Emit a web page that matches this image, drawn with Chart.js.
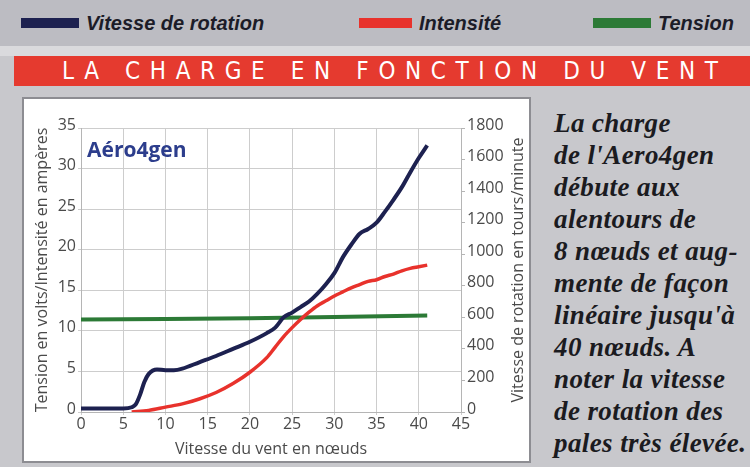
<!DOCTYPE html>
<html><head><meta charset="utf-8">
<script src="https://cdn.jsdelivr.net/npm/chart.js@4/dist/chart.umd.min.js"></script>
<style>
html,body{margin:0;padding:0;}
body{width:750px;height:467px;position:relative;overflow:hidden;background:#c8c8cc;font-family:"Open Sans",sans-serif;}
#topband{position:absolute;left:0;top:0;width:750px;height:46px;background:#bcbcc2;}
#gap{position:absolute;left:0;top:46px;width:750px;height:10px;background:#dadadd;}
#legend{position:absolute;left:0;top:0;width:750px;height:46px;}
.li{position:absolute;top:12px;height:22px;display:flex;align-items:center;font-family:"Liberation Sans",sans-serif;font-weight:bold;font-style:italic;font-size:20px;color:#1c1c28;white-space:nowrap;}
.sw{display:inline-block;height:10px;margin-right:7px;}
#titleband{position:absolute;left:14px;top:56px;width:736px;height:30px;background:#e53a2f;color:#fff;font-family:"Liberation Sans Narrow","DejaVu Sans Condensed",sans-serif;font-size:24px;line-height:30px;white-space:nowrap;}
#titleband span{position:absolute;left:48px;top:0;}
#panel{position:absolute;left:22px;top:97px;width:505px;height:362px;background:#fff;border:2px solid #8d8d92;}
#chartbox{position:absolute;left:0;top:0;width:505px;height:362px;}
#brand{position:absolute;left:63px;top:36px;font-family:"Open Sans",sans-serif;font-weight:bold;font-size:21px;color:#2c3d8c;}
#caption{position:absolute;left:554px;top:107px;width:196px;font-family:"Liberation Serif",serif;font-weight:bold;font-style:italic;font-size:27px;letter-spacing:0.4px;line-height:32px;color:#1b1b1f;white-space:nowrap;}
</style></head>
<body>
<div id="topband"></div><div id="gap"></div>
<div id="legend"></div>
<div id="titleband"><span id="ttext">LA CHARGE EN FONCTION DU VENT</span></div>
<div id="panel"><div id="chartbox"><canvas id="c" width="505" height="362"></canvas></div><div id="brand">Aéro4gen</div></div>
<div id="caption">La charge<br>de l'Aero4gen<br>débute aux<br>alentours de<br>8 nœuds et aug-<br>mente de façon<br>linéaire jusqu'à<br>40 nœuds. A<br>noter la vitesse<br>de rotation des<br>pales très élevée.</div>
<script>
// Series names
const seriesNames = ['Vitesse de rotation', 'Intensité', 'Tension'];
// Vitesse de rotation (tours/minute) vs wind speed (nœuds)
const rpmKnots  = [0, 5, 6, 6.5, 7, 7.5, 8, 9, 10, 11, 12, 14, 16, 18, 20, 22, 23, 24, 25, 26, 27, 28, 29, 30, 31, 32, 33, 34, 35, 36, 37, 38, 39, 40, 41];
const rpmValues = [22, 22, 30, 50, 110, 190, 240, 270, 265, 265, 275, 315, 355, 400, 445, 500, 535, 600, 630, 665, 700, 750, 810, 880, 980, 1060, 1130, 1160, 1200, 1270, 1345, 1425, 1520, 1610, 1690];
// Intensité (ampères)
const ampKnots  = [6, 8, 10, 12, 14, 16, 18, 20, 22, 23, 24, 25, 26, 27, 28, 29, 30, 31, 32, 33, 34, 35, 36, 37, 38, 39, 40, 41];
const ampValues = [0, 0.2, 0.6, 1.0, 1.6, 2.4, 3.5, 4.9, 6.7, 8.0, 9.3, 10.4, 11.4, 12.3, 13.1, 13.7, 14.3, 14.8, 15.3, 15.7, 16.1, 16.3, 16.7, 17.0, 17.4, 17.7, 17.9, 18.1];
// Tension (volts)
const voltKnots  = [0, 10, 20, 30, 41];
const voltValues = [11.4, 11.45, 11.55, 11.7, 11.9];
// Axis ranges / ticks
const xTicks = [0, 45, 5];
const leftTicks = [0, 35, 5];
const rightTicks = [0, 1800, 200];
const seriesColors = ['#1d2150', '#e8322c', '#2c7a36'];

// Fit the letter-spaced title band text to its width
(function () {
  const t = document.getElementById('ttext');
  const target = 656, n = t.textContent.length;
  const w0 = t.getBoundingClientRect().width;
  t.style.letterSpacing = ((target - w0) / (n - 1)) + 'px';
})();

const pts = (xs, ys) => xs.map((x, i) => ({x, y: ys[i]}));
const tickFont = {family: '"Open Sans", sans-serif', size: 16};
const titleFont = {family: '"Open Sans", sans-serif', size: 16};
const tickColor = '#4a4a4a';
const gridColor = '#cdcdcd';

const rightTitlePlugin = {
  id: 'rightTitle',
  afterDraw(chart) {
    const s = chart.scales.yR;
    const ctx = chart.ctx;
    ctx.save();
    ctx.font = '16px "Open Sans", sans-serif';
    ctx.fillStyle = tickColor;
    ctx.textAlign = 'center';
    ctx.textBaseline = 'middle';
    ctx.translate(s.right - 11, (chart.chartArea.top + chart.chartArea.bottom) / 2);
    ctx.rotate(-Math.PI / 2);
    ctx.fillText(s.options.title.text, 0, 0);
    ctx.restore();
  }
};

const chart = new Chart(document.getElementById('c'), {
  type: 'line',
  data: {
    datasets: [
      {label: seriesNames[0], data: pts(rpmKnots, rpmValues), yAxisID: 'yR', borderColor: seriesColors[0], backgroundColor: seriesColors[0], borderWidth: 4, pointRadius: 0, cubicInterpolationMode: 'monotone'},
      {label: seriesNames[1], data: pts(ampKnots, ampValues), yAxisID: 'y', borderColor: seriesColors[1], backgroundColor: seriesColors[1], borderWidth: 3.5, pointRadius: 0, cubicInterpolationMode: 'monotone'},
      {label: seriesNames[2], data: pts(voltKnots, voltValues), yAxisID: 'y', borderColor: seriesColors[2], backgroundColor: seriesColors[2], borderWidth: 4, pointRadius: 0, tension: 0}
    ]
  },
  plugins: [rightTitlePlugin],
  options: {
    responsive: false,
    animation: false,
    layout: {padding: {top: 29, left: 0, right: 0, bottom: 0}},
    plugins: {legend: {display: false}, tooltip: {enabled: false}},
    scales: {
      x: {
        type: 'linear', min: xTicks[0], max: xTicks[1],
        ticks: {stepSize: xTicks[2], color: tickColor, font: tickFont, padding: 0},
        grid: {color: gridColor, tickLength: 3},
        border: {color: '#b5b5b5'},
        title: {display: true, text: 'Vitesse du vent en nœuds', color: tickColor, font: titleFont, padding: {top: 0, bottom: 2}},
        afterFit: s => { s.height = 49; }
      },
      y: {
        position: 'left', min: leftTicks[0], max: leftTicks[1],
        ticks: {stepSize: leftTicks[2], color: tickColor, font: tickFont, padding: 2, labelOffset: -3},
        grid: {color: gridColor, tickLength: 3},
        border: {color: '#b5b5b5'},
        title: {display: true, text: 'Tension en volts/Intensité en ampères', color: tickColor, font: titleFont, padding: {top: 9, bottom: 0}},
        afterFit: s => { s.width = 57; }
      },
      yR: {
        position: 'right', min: rightTicks[0], max: rightTicks[1],
        ticks: {stepSize: rightTicks[2], color: tickColor, font: tickFont, padding: 2, labelOffset: -3, format: {useGrouping: false}},
        grid: {drawOnChartArea: false, color: '#b5b5b5', tickLength: 4},
        border: {color: '#b5b5b5'},
        title: {display: false, text: 'Vitesse de rotation en tours/minute'},
        afterFit: s => { s.width = 68; }
      }
    }
  }
});

// HTML legend built from the chart's datasets
const legendPos = [[21, 58], [359, 53], [593, 58]];
const legendEl = document.getElementById('legend');
chart.data.datasets.forEach((ds, i) => {
  const item = document.createElement('div');
  item.className = 'li';
  item.style.left = legendPos[i][0] + 'px';
  const sw = document.createElement('span');
  sw.className = 'sw';
  sw.style.width = legendPos[i][1] + 'px';
  sw.style.background = ds.borderColor;
  item.appendChild(sw);
  item.appendChild(document.createTextNode(ds.label));
  legendEl.appendChild(item);
});
</script>
</body></html>
